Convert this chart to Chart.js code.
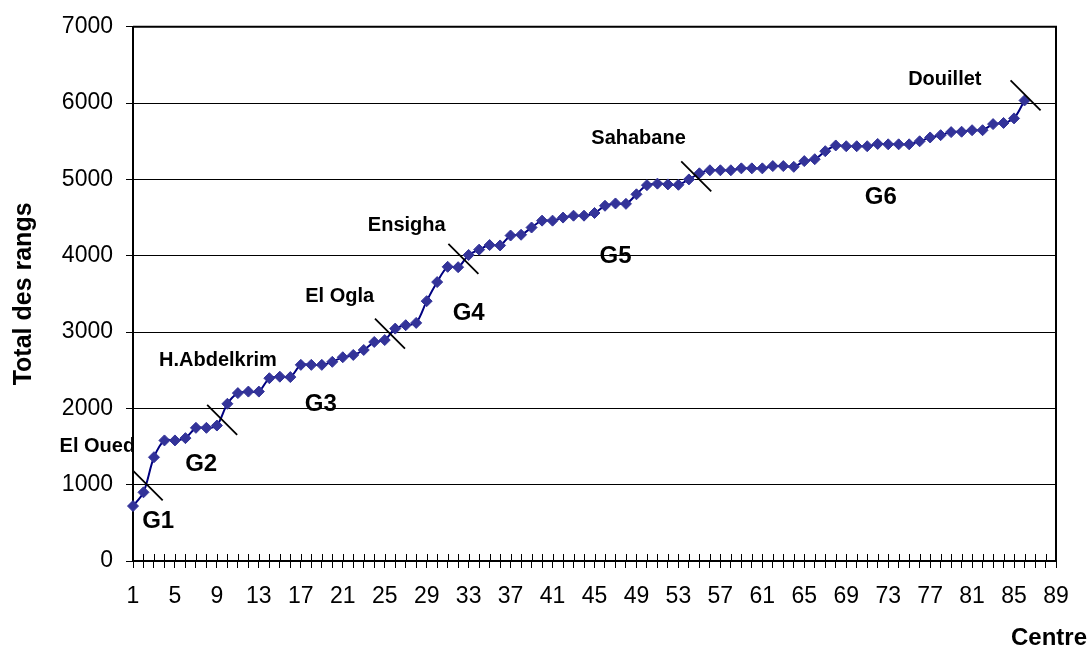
<!DOCTYPE html>
<html>
<head>
<meta charset="utf-8">
<script src="https://cdn.jsdelivr.net/npm/chart.js@4.4.1/dist/chart.umd.min.js"></script>
<style>
  body { margin: 0; background: #fff; }
  #wrap { width: 1089px; height: 650px; position: relative; }
</style>
</head>
<body>
<div id="wrap"><canvas id="myChart"></canvas></div>
<script>
// numéros des centres sur l'axe (1 à 89)
const centres = ['1','2','3','4','5','6','7','8','9','10','11','12','13','14','15','16','17','18','19','20',
  '21','22','23','24','25','26','27','28','29','30','31','32','33','34','35','36','37','38','39','40',
  '41','42','43','44','45','46','47','48','49','50','51','52','53','54','55','56','57','58','59','60',
  '61','62','63','64','65','66','67','68','69','70','71','72','73','74','75','76','77','78','79','80',
  '81','82','83','84','85','86','87','88','89']

// total des rangs, centres 1 à 86
const totalRangs = [720, 900, 1360, 1580, 1580, 1610, 1745, 1745, 1775, 2060,
  2200, 2220, 2220, 2395, 2415, 2410, 2570, 2570, 2570, 2610,
  2670, 2700, 2765, 2870, 2895, 3045, 3090, 3120, 3405, 3655,
  3855, 3850, 4010, 4080, 4140, 4135, 4265, 4275, 4370, 4460,
  4460, 4500, 4525, 4525, 4560, 4655, 4685, 4680, 4805, 4925,
  4945, 4935, 4930, 5000, 5080, 5120, 5120, 5120, 5145, 5145,
  5145, 5175, 5175, 5165, 5240, 5265, 5370, 5445, 5435, 5435,
  5435, 5465, 5460, 5460, 5460, 5500, 5550, 5580, 5620, 5625,
  5645, 5645, 5725, 5740, 5800, 6035]

const yTicks = [0, 1000, 2000, 3000, 4000, 5000, 6000, 7000]

// noms des stations limites (position en centre / total)
const stations = ['El Oued', 'H.Abdelkrim', 'El Ogla', 'Ensigha', 'Sahabane', 'Douillet']
const stationX = [-2.4, 9.1, 20.7, 27.1, 49.2, 78.4]
const stationY = [1500, 2630, 3460, 4390, 5540, 6310]

// groupes
const groupes = ['G1', 'G2', 'G3', 'G4', 'G5', 'G6']
const groupeX = [3.4, 7.5, 18.9, 33.0, 47.0, 72.3]
const groupeY = [520, 1270, 2050, 3240, 3990, 4760]

// traits de coupure entre groupes
const coupureX = [2.4, 9.5, 25.5, 32.5, 54.7, 86.1]
const coupureY = [990, 1850, 2980, 3960, 5040, 6100]

const police = 'Arial, "Liberation Sans", sans-serif'

/**
 * dessine le cadre, les graduations croisées, les coupures et les textes
 */
const annotations = {
    id: 'annotations',
    afterDraw(chart) {
        const ctx = chart.ctx
        const xs = chart.scales.x
        const ys = chart.scales.y
        const area = chart.chartArea
        ctx.save()

        // cadre de la zone de tracé
        ctx.strokeStyle = '#000'
        ctx.lineWidth = 2
        ctx.beginPath()
        ctx.moveTo(area.left, area.top)
        ctx.lineTo(area.right, area.top)
        ctx.lineTo(area.right, area.bottom)
        ctx.stroke()

        // graduations au dessus de l'axe x
        ctx.lineWidth = 1
        ctx.beginPath()
        for (let i = 0; i < centres.length; i++) {
            const px = Math.round(xs.getPixelForValue(i)) + 0.5
            ctx.moveTo(px, area.bottom - 7)
            ctx.lineTo(px, area.bottom)
        }
        ctx.stroke()

        // coupures
        ctx.lineWidth = 1.8
        ctx.beginPath()
        for (let i = 0; i < coupureX.length; i++) {
            const px = xs.getPixelForValue(coupureX[i] - 1)
            const py = ys.getPixelForValue(coupureY[i])
            ctx.moveTo(px - 15, py - 15)
            ctx.lineTo(px + 15, py + 15)
        }
        ctx.stroke()

        ctx.fillStyle = '#000'
        ctx.textAlign = 'center'
        ctx.textBaseline = 'middle'
        ctx.font = 'bold 20px ' + police
        for (let i = 0; i < stations.length; i++) {
            ctx.fillText(stations[i], xs.getPixelForValue(stationX[i] - 1), ys.getPixelForValue(stationY[i]))
        }
        ctx.font = 'bold 24px ' + police
        for (let i = 0; i < groupes.length; i++) {
            ctx.fillText(groupes[i], xs.getPixelForValue(groupeX[i] - 1), ys.getPixelForValue(groupeY[i]))
        }

        // titre de l'axe x
        ctx.font = 'bold 24px ' + police
        ctx.textAlign = 'right'
        ctx.fillText('Centre', chart.width - 2, 638)
        ctx.restore()
    }
}

const ctx = document.getElementById('myChart')

new Chart(ctx, {
    type: 'line',
    data: {
        labels: centres,
        datasets: [{
            label: 'Total des rangs',
            data: totalRangs,
            borderColor: '#000080',
            borderWidth: 2,
            tension: 0.3,
            pointStyle: 'rectRot',
            pointRadius: 5.5,
            pointBackgroundColor: '#333399',
            pointBorderColor: '#333399',
            pointBorderWidth: 1,
        }],
    },
    options: {
        responsive: true,
        maintainAspectRatio: false,
        animation: false,
        layout: {
            padding: { top: 26, right: 33, left: 0, bottom: 0 }
        },
        scales: {
            x: {
                offset: false,
                grid: {
                    drawOnChartArea: false,
                    color: '#000',
                    tickLength: 7,
                },
                border: { color: '#000', width: 2 },
                ticks: {
                    autoSkip: false,
                    maxRotation: 0,
                    color: '#000',
                    padding: 15,
                    font: { family: police, size: 23 },
                    callback: function (value, index) {
                        return index % 4 === 0 ? centres[index] : ''
                    }
                },
                afterFit(scale) { scale.height = 89 }
            },
            y: {
                min: 0,
                max: 7000,
                afterBuildTicks(scale) { scale.ticks = yTicks.map(v => ({ value: v })) },
                grid: { color: '#000', tickLength: 7 },
                border: { color: '#000', width: 2 },
                ticks: {
                    color: '#000',
                    padding: 13,
                    font: { family: police, size: 23 },
                    callback: value => String(value)
                },
                title: {
                    display: true,
                    text: 'Total des rangs',
                    color: '#000',
                    padding: { top: 9, bottom: 0 },
                    font: { family: police, size: 25, weight: 'bold' }
                },
                afterFit(scale) { scale.width = 133 }
            }
        },
        plugins: {
            legend: { display: false },
            tooltip: { enabled: false }
        }
    },
    plugins: [annotations]
});
</script>
</body>
</html>
